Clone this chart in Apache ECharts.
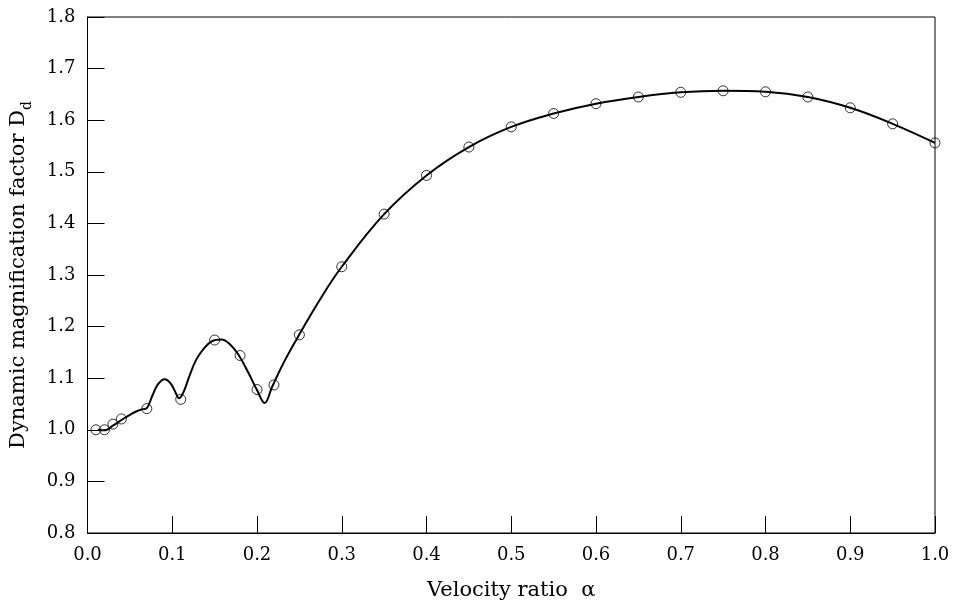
<!DOCTYPE html>
<html>
<head>
<meta charset="utf-8">
<script src="https://cdn.jsdelivr.net/npm/echarts@6/dist/echarts.min.js"></script>
<style>
  html, body { margin: 0; padding: 0; background: #fff; }
  #main { width: 955px; height: 606px; }
</style>
</head>
<body>
<div id="main"></div>
<script>
// solid curve
var alphaCurve = [0.012, 0.02, 0.03, 0.04, 0.05, 0.058, 0.065, 0.07, 0.076, 0.083, 0.091, 0.098, 0.104, 0.108, 0.113, 0.12, 0.128, 0.137, 0.147, 0.158, 0.168, 0.178, 0.19, 0.20, 0.209, 0.218, 0.233, 0.25, 0.276, 0.30, 0.35, 0.40, 0.45, 0.50, 0.55, 0.60, 0.65, 0.70, 0.75, 0.80, 0.85, 0.90, 0.95, 1.00];
var ddCurve = [1.000, 0.999, 1.008, 1.019, 1.029, 1.036, 1.040, 1.042, 1.064, 1.088, 1.098, 1.090, 1.072, 1.061, 1.072, 1.103, 1.135, 1.157, 1.172, 1.175, 1.166, 1.146, 1.110, 1.077, 1.052, 1.084, 1.135, 1.185, 1.257, 1.316, 1.418, 1.493, 1.548, 1.587, 1.613, 1.632, 1.645, 1.654, 1.657, 1.655, 1.645, 1.624, 1.593, 1.556];

// open circle markers
var alphaPts = [0.01, 0.02, 0.03, 0.04, 0.07, 0.11, 0.15, 0.18, 0.20, 0.22, 0.25, 0.30, 0.35, 0.40, 0.45, 0.50, 0.55, 0.60, 0.65, 0.70, 0.75, 0.80, 0.85, 0.90, 0.95, 1.00];
var ddPts = [1.000, 1.000, 1.011, 1.021, 1.041, 1.059, 1.174, 1.144, 1.078, 1.087, 1.184, 1.316, 1.418, 1.493, 1.548, 1.587, 1.613, 1.632, 1.645, 1.654, 1.657, 1.655, 1.645, 1.624, 1.593, 1.556];

var font = 'DejaVu Serif';

function zip(xs, ys) {
  var out = [];
  for (var i = 0; i < xs.length; i++) out.push([xs[i], ys[i]]);
  return out;
}

var myChart = echarts.init(document.getElementById('main'));
var options = {
  backgroundColor: '#fff',
  animation: false,
  grid: { left: 85, right: 20, top: 17, bottom: 68, show: true, borderColor: '#000', borderWidth: 1 },
  xAxis: {
    type: 'value',
    min: 0,
    max: 1,
    interval: 0.1,
    name: 'Velocity ratio  α',
    nameLocation: 'middle',
    nameGap: 47,
    nameTextStyle: { fontFamily: font, fontSize: 21, color: '#000' },
    axisLine: { lineStyle: { color: '#000', width: 1 } },
    axisTick: { inside: true, length: 17, lineStyle: { color: '#000' } },
    axisLabel: { fontFamily: font, fontSize: 18, color: '#000', margin: 13, formatter: function (v) { return v.toFixed(1); } },
    splitLine: { show: false }
  },
  yAxis: {
    type: 'value',
    min: 0.8,
    max: 1.8,
    interval: 0.1,
    name: 'Dynamic magnification factor D{sub|d}',
    nameLocation: 'middle',
    nameGap: 53,
    nameTextStyle: {
      fontFamily: font, fontSize: 21, color: '#000',
      rich: {
        sub: { fontFamily: font, fontSize: 14, color: '#000', lineHeight: 32, verticalAlign: 'bottom' }
      }
    },
    axisLine: { lineStyle: { color: '#000', width: 1 } },
    axisTick: { inside: true, length: 17, lineStyle: { color: '#000' } },
    axisLabel: { fontFamily: font, fontSize: 18, color: '#000', margin: 12, formatter: function (v) { return v.toFixed(1); } },
    splitLine: { show: false }
  },
  series: [
    {
      type: 'line',
      data: zip(alphaCurve, ddCurve),
      smooth: 0.4,
      showSymbol: false,
      lineStyle: { color: '#000', width: 2 }
    },
    {
      type: 'scatter',
      data: zip(alphaPts, ddPts),
      symbol: 'circle',
      symbolSize: 10,
      clip: false,
      itemStyle: { color: 'rgba(255,255,255,0)', borderColor: '#000', borderWidth: 1 }
    }
  ]
};
myChart.setOption(options, true);
</script>
</body>
</html>
